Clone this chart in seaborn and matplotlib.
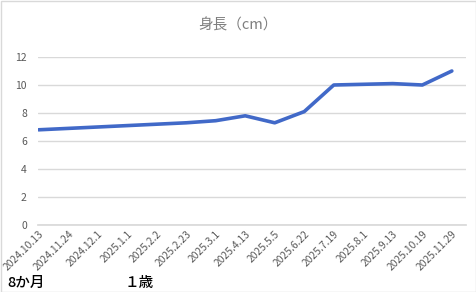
import matplotlib
matplotlib.use("Agg")
import matplotlib.pyplot as plt
import matplotlib.transforms as mtransforms
import seaborn as sns
import pandas as pd
from matplotlib.patches import Rectangle

dates = ["2024.10.13", "2024.11.24", "2024.12.1", "2025.1.1", "2025.2.2", "2025.2.23",
         "2025.3.1", "2025.4.13", "2025.5.5", "2025.6.22", "2025.7.19", "2025.8.1",
         "2025.9.13", "2025.10.19", "2025.11.29"]
height = [6.8, 6.9, 7.0, 7.1, 7.2, 7.3, 7.45, 7.8, 7.3, 8.1, 10.0, 10.05, 10.1, 10.0, 11.0]
yticks = [0, 2, 4, 6, 8, 10, 12]
title = "身長（cm）"
notes = ["8か月", "１歳"]

sns.set_theme(style="white")
plt.rcParams['font.family'] = ['Noto Sans CJK JP', 'DejaVu Sans']

df = pd.DataFrame({"x": range(len(dates)), "y": height})

fig = plt.figure(figsize=(4.76, 2.92), dpi=100)
ax = fig.add_axes([38/476, 1 - 225/292, (466-38)/476, (225-57)/292])
sns.lineplot(data=df, x="x", y="y", ax=ax, color="#4169C8", linewidth=2.6)

ax.set_ylim(0, 12)
ax.set_xlim(-0.02, 14.48)
ax.set_yticks(yticks)
ax.set_yticklabels([str(v) for v in yticks], color="#595959", fontsize=7.5)
ax.yaxis.grid(True, color="#d9d9d9", linewidth=1)
ax.set_xticks(range(len(dates)))
ax.set_xticklabels(dates, rotation=45, ha="right", rotation_mode="anchor",
                   color="#595959", fontsize=7.4)
offset = mtransforms.ScaledTranslation(5/100, 0, fig.dpi_scale_trans)
for lab in ax.get_xticklabels():
    lab.set_transform(lab.get_transform() + offset)
ax.tick_params(axis="x", length=0, pad=3)
ax.tick_params(axis="y", length=0, pad=8)
ax.set_xlabel("")
ax.set_ylabel("")
for s in ax.spines.values():
    s.set_visible(False)
ax.spines["bottom"].set_visible(True)
ax.spines["bottom"].set_color("#d9d9d9")

fig.text(0.5, 1 - 25/292, title, ha="center", va="center", color="#7f7f7f", fontsize=10.5)
fig.text(7/476, 1 - 283/292, notes[0], ha="left", va="center", color="black",
         fontsize=10.5, fontweight="medium")
fig.text(125/476, 1 - 283/292, notes[1], ha="left", va="center", color="black",
         fontsize=10.5, fontweight="medium")

fig.patches.append(Rectangle((0.5/476, 0.5/292), 1 - 1/476, 1 - 1/292, transform=fig.transFigure,
                             fill=False, edgecolor="#d9d9d9", linewidth=1))

fig.savefig("out.png", dpi=100)
